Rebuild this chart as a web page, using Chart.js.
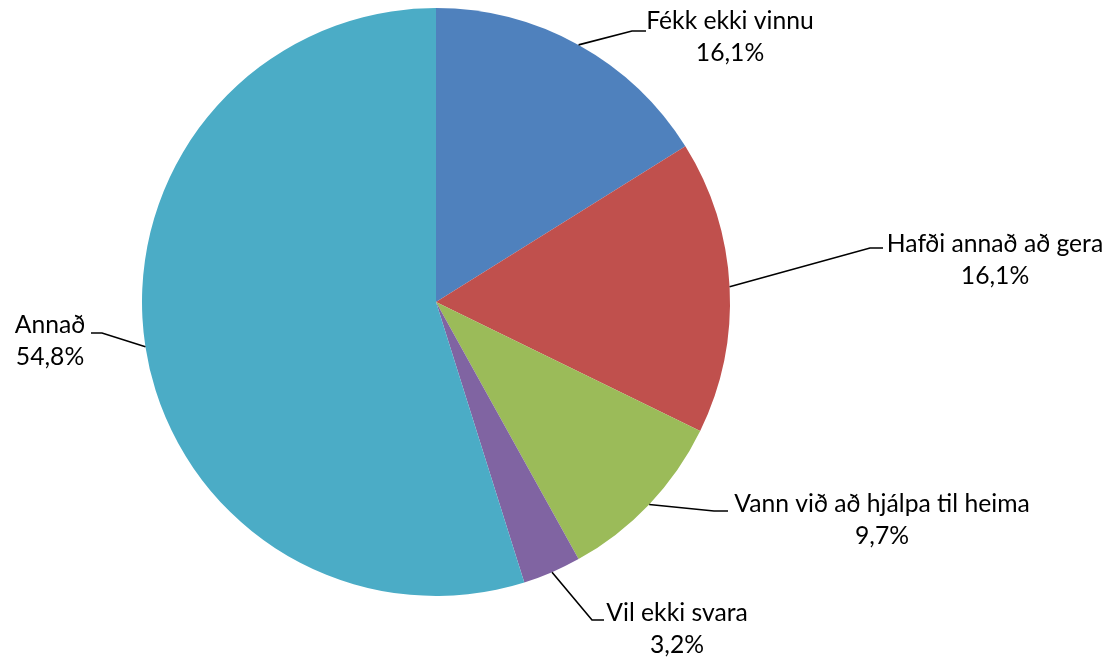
<!DOCTYPE html>
<html lang="is">
<head>
<meta charset="utf-8">
<title>Ástæður</title>
<script src="https://cdn.jsdelivr.net/npm/chart.js@4/dist/chart.umd.min.js"></script>
<style>
  html, body { margin: 0; padding: 0; background: #fff; }
  #wrap { width: 1111px; height: 659px; position: relative; }
</style>
</head>
<body>
<div id="wrap"><canvas id="c" width="1111" height="659"></canvas></div>
<script>
// Categories and their shares (%)
const categories = ['Fékk ekki vinnu', 'Hafði annað að gera', 'Vann við að hjálpa til heima', 'Vil ekki svara', 'Annað'];
const shares = [16.1, 16.1, 9.7, 3.2, 54.8];
const shareLabels = ['16,1%', '16,1%', '9,7%', '3,2%', '54,8%'];
const sliceColors = ['#4F81BD', '#C0504D', '#9BBB59', '#8064A2', '#4BACC6'];

// Where each callout sits: leader elbow, end of the short stub, text centre x and first baseline
const calloutLayout = [
  { elbow: [632, 31],  stub: [646, 31],  cx: 730, y: 29 },
  { elbow: [870, 248], stub: [883, 248], cx: 995, y: 252 },
  { elbow: [714, 511], stub: [728, 511], cx: 882, y: 512 },
  { elbow: [592, 620], stub: [604, 620], cx: 677, y: 621 },
  { elbow: [102, 333], stub: [91, 333],  cx: 50,  y: 333 }
];
const LINE_GAP = 32;
const FONT = '24.7px Lato, "Open Sans", sans-serif';

const calloutPlugin = {
  id: 'callouts',
  afterDatasetsDraw(chart) {
    const ctx = chart.ctx;
    const meta = chart.getDatasetMeta(0);
    ctx.save();
    meta.data.forEach((arc, i) => {
      const p = arc.getProps(['x', 'y', 'startAngle', 'endAngle', 'outerRadius'], true);
      const mid = (p.startAngle + p.endAngle) / 2;
      const sx = p.x + Math.cos(mid) * p.outerRadius;
      const sy = p.y + Math.sin(mid) * p.outerRadius;
      const L = calloutLayout[i];
      ctx.strokeStyle = '#000';
      ctx.lineWidth = 1.6;
      ctx.beginPath();
      ctx.moveTo(sx, sy);
      ctx.lineTo(L.elbow[0], L.elbow[1]);
      ctx.lineTo(L.stub[0], L.stub[1]);
      ctx.stroke();

      ctx.fillStyle = '#000';
      ctx.font = FONT;
      ctx.textAlign = 'center';
      ctx.textBaseline = 'alphabetic';
      ctx.fillText(categories[i], L.cx, L.y);
      ctx.fillText(shareLabels[i], L.cx, L.y + LINE_GAP);
    });
    ctx.restore();
  }
};

new Chart(document.getElementById('c'), {
  type: 'pie',
  data: {
    labels: categories,
    datasets: [{
      data: shares,
      backgroundColor: sliceColors,
      borderWidth: 0
    }]
  },
  options: {
    responsive: false,
    animation: false,
    layout: { padding: { left: 142, right: 381, top: 8, bottom: 63 } },
    plugins: {
      legend: { display: false },
      tooltip: { enabled: false }
    }
  },
  plugins: [calloutPlugin]
});
</script>
</body>
</html>
